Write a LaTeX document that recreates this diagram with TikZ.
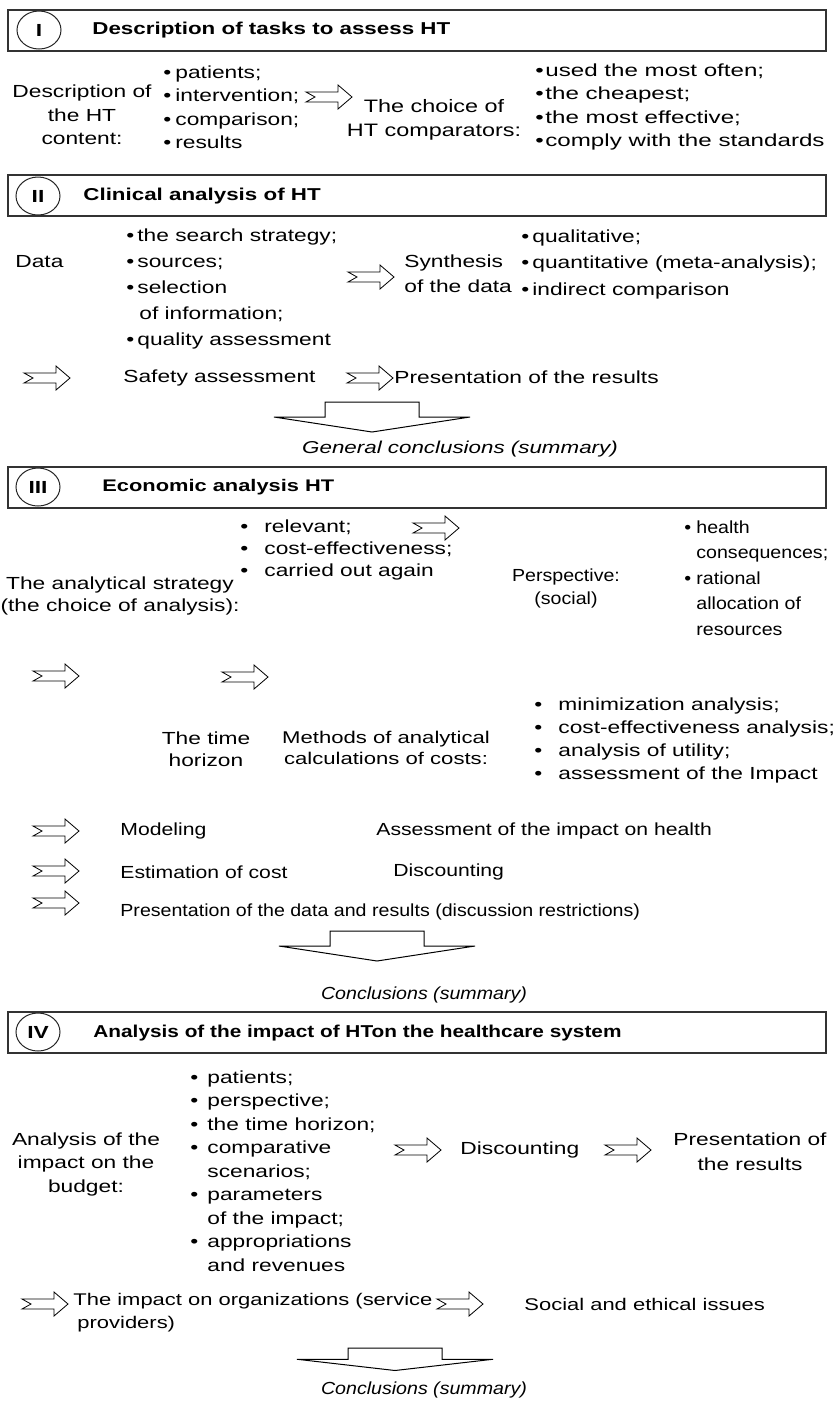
\documentclass[tikz,border=0pt]{standalone}
\usepackage{fontspec}
\setmainfont{Liberation Sans}[FakeStretch=1.3]
\newfontfamily\nrw{Liberation Sans}[FakeStretch=1.12]
\newfontfamily\mdw{Liberation Sans}[FakeStretch=1.21]
\newfontfamily\wdw{Liberation Sans}[FakeStretch=1.38]
\usetikzlibrary{shapes.geometric}

\newcommand\li[2][6pt]{\makebox[#1][l]{\textbullet}#2}
\newcommand\lc[2][6pt]{\hspace*{#1}#2}

\tikzset{
  txt/.style={inner sep=0pt,font=\fontsize{8.75}{11.75}\selectfont},
  lst/.style={txt,align=left,anchor=west},
  sec/.style={draw=black!80,line width=0.6pt},
  num/.style={ellipse,draw=black!85,line width=0.5pt,minimum width=22pt,minimum height=19pt,inner sep=0pt,font=\fontsize{8.75}{10}\selectfont\bfseries},
  ttl/.style={inner sep=0pt,anchor=west,font=\fontsize{8.6}{10}\selectfont\bfseries},
  concl/.style={inner sep=0pt,font=\nrw\fontsize{8.75}{10}\selectfont\itshape},
  notched/.pic={\draw[line width=0.4pt] (0,-5)--(32,-5)--(32,-12)--(46,0)--(32,12)--(32,5)--(0,5)--(9,0)--cycle;},
  bigdown/.pic={\draw[line width=0.5pt] (-47,0)--(47,0)--(47,15)--(98,15)--(0,30)--(-98,15)--(-47,15)--cycle;}
}

\begin{document}
\begin{tikzpicture}[x=0.5pt,y=-0.5pt]
\useasboundingbox (0,0) rectangle (832,1405);

% I
\draw[sec] (8,10) rectangle (826,51);
\node[num] (n1) at (39,30) {I};
\node[ttl] (t1) at (92,30) {Description of tasks to assess HT};
\node[txt,align=center] (d1) at (82,115) {Description of\\the HT\\content:};
\node[lst] (l1) at (163,107) {\li{patients;}\\\li{intervention;}\\\li{comparison;}\\\li{results}};
\pic at (306,97) {notched};
\node[txt,align=center,font=\fontsize{9}{11.75}\selectfont] (c1) at (434,120) {The choice of\\HT comparators:};
\node[lst,font=\wdw\fontsize{8.75}{11.65}\selectfont] (l2) at (535,107) {\li[5pt]{used the most often;}\\\li[5pt]{the cheapest;}\\\li[5pt]{the most effective;}\\\li[5pt]{comply with the standards}};

% II
\draw[sec] (8,175) rectangle (826,216);
\node[num] (n2) at (38,196) {II};
\node[ttl] (t2) at (83,196) {Clinical analysis of HT};
\node[lst] (da) at (15,262) {Data};
\node[lst,font=\fontsize{8.75}{13}\selectfont] (l3) at (126,289) {\li[5.5pt]{the search strategy;}\\\li[5.5pt]{sources;}\\\li[5.5pt]{selection}\\\lc[6.5pt]{of information;}\\\li[5.5pt]{quality assessment}};
\pic at (348,277) {notched};
\node[lst,font=\fontsize{8.75}{12.5}\selectfont] (sy) at (404,274) {Synthesis\\of the data};
\node[lst,font=\fontsize{8.75}{13.25}\selectfont] (l4) at (521,264) {\li[5.5pt]{qualitative;}\\\li[5.5pt]{quantitative (meta-analysis);}\\\li[5.5pt]{indirect comparison}};
\pic at (24,378) {notched};
\node[lst] (sa) at (123,378) {Safety assessment};
\pic at (347,378) {notched};
\node[lst] (pr) at (394,377) {Presentation of the results};
\pic at (372,402) {bigdown};
\node[concl,font=\fontsize{8.6}{10}\selectfont\itshape] (gc) at (460,449) {General conclusions (summary)};

% III
\draw[sec] (8,467) rectangle (826,508);
\node[num] (n3) at (38,487) {III};
\node[ttl,font=\fontsize{8.4}{10}\selectfont\bfseries] (t3) at (102,487) {Economic analysis HT};
\node[lst,font=\fontsize{8.75}{11}\selectfont] (l5) at (240,550) {\li[12pt]{relevant;}\\\li[12pt]{cost-effectiveness;}\\\li[12pt]{carried out again}};
\pic at (413,528) {notched};
\node[txt,align=center,font=\fontsize{8.75}{11}\selectfont] (as) at (120,596) {The analytical strategy\\(the choice of analysis):};
\node[txt,align=center,font=\nrw\fontsize{8.75}{11.5}\selectfont] (pe) at (566,588) {Perspective:\\(social)};
\node[lst,font=\nrw\fontsize{8.75}{12.75}\selectfont] (l6) at (684,578) {\li[6pt]{health}\\\lc[6pt]{consequences;}\\\li[6pt]{rational}\\\lc[6pt]{allocation of}\\\lc[6pt]{resources}};
\pic at (33,676) {notched};
\pic at (222,677) {notched};
\node[txt,align=center,font=\fontsize{8.75}{11}\selectfont] (th) at (206,749) {The time\\horizon};
\node[txt,align=center,font=\fontsize{8.5}{10.5}\selectfont] (mc) at (386,748) {Methods of analytical\\calculations of costs:};
\node[lst,font=\fontsize{8.75}{11.5}\selectfont] (l7) at (534,740) {\li[12pt]{minimization analysis;}\\\li[12pt]{cost-effectiveness analysis;}\\\li[12pt]{analysis of utility;}\\\li[12pt]{assessment of the Impact}};
\pic at (33,831) {notched};
\node[lst,font=\mdw\fontsize{8.75}{10}\selectfont] (mo) at (120,831) {Modeling};
\node[lst,font=\mdw\fontsize{8.75}{10}\selectfont] (ah) at (376,831) {Assessment of the impact on health};
\pic at (33,871) {notched};
\node[lst,font=\mdw\fontsize{8.75}{10}\selectfont] (ec) at (120,872) {Estimation of cost};
\node[lst,font=\mdw\fontsize{8.75}{10}\selectfont] (di) at (393,872) {Discounting};
\pic at (33,903) {notched};
\node[lst,font=\nrw\fontsize{8.75}{10}\selectfont] (pd) at (120,912) {Presentation of the data and results (discussion restrictions)};
\pic at (377,931) {bigdown};
\node[concl] (c3) at (424,995) {Conclusions (summary)};

% IV
\draw[sec] (8,1012) rectangle (826,1053);
\node[num] (n4) at (38,1032) {IV};
\node[ttl,font=\mdw\fontsize{8.6}{10}\selectfont\bfseries] (t4) at (93,1033) {Analysis of the impact of HTon the healthcare system};
\node[lst] (l8) at (190,1171) {\li[8.5pt]{patients;}\\\li[8.5pt]{perspective;}\\\li[8.5pt]{the time horizon;}\\\li[8.5pt]{comparative}\\\lc[8.5pt]{scenarios;}\\\li[8.5pt]{parameters}\\\lc[8.5pt]{of the impact;}\\\li[8.5pt]{appropriations}\\\lc[8.5pt]{and revenues}};
\node[txt,align=center] (ab) at (86,1164) {Analysis of the\\impact on the\\budget:};
\pic at (395,1150) {notched};
\node[lst] (d4) at (460,1150) {Discounting};
\pic at (605,1150) {notched};
\node[txt,align=center,font=\fontsize{8.75}{12.5}\selectfont] (p4) at (750,1152) {Presentation of\\the results};
\pic at (22,1304) {notched};
\node[lst,font=\fontsize{8.45}{11.5}\selectfont] (io) at (73,1313) {The impact on organizations (service\\\hspace*{2pt}providers)};
\pic at (437,1304) {notched};
\node[lst,font=\fontsize{8.45}{10}\selectfont] (se) at (524,1304) {Social and ethical issues};
\pic[yscale=0.75] at (395,1348) {bigdown};
\node[concl] (c4) at (424,1390) {Conclusions (summary)};
\end{tikzpicture}
\end{document}
